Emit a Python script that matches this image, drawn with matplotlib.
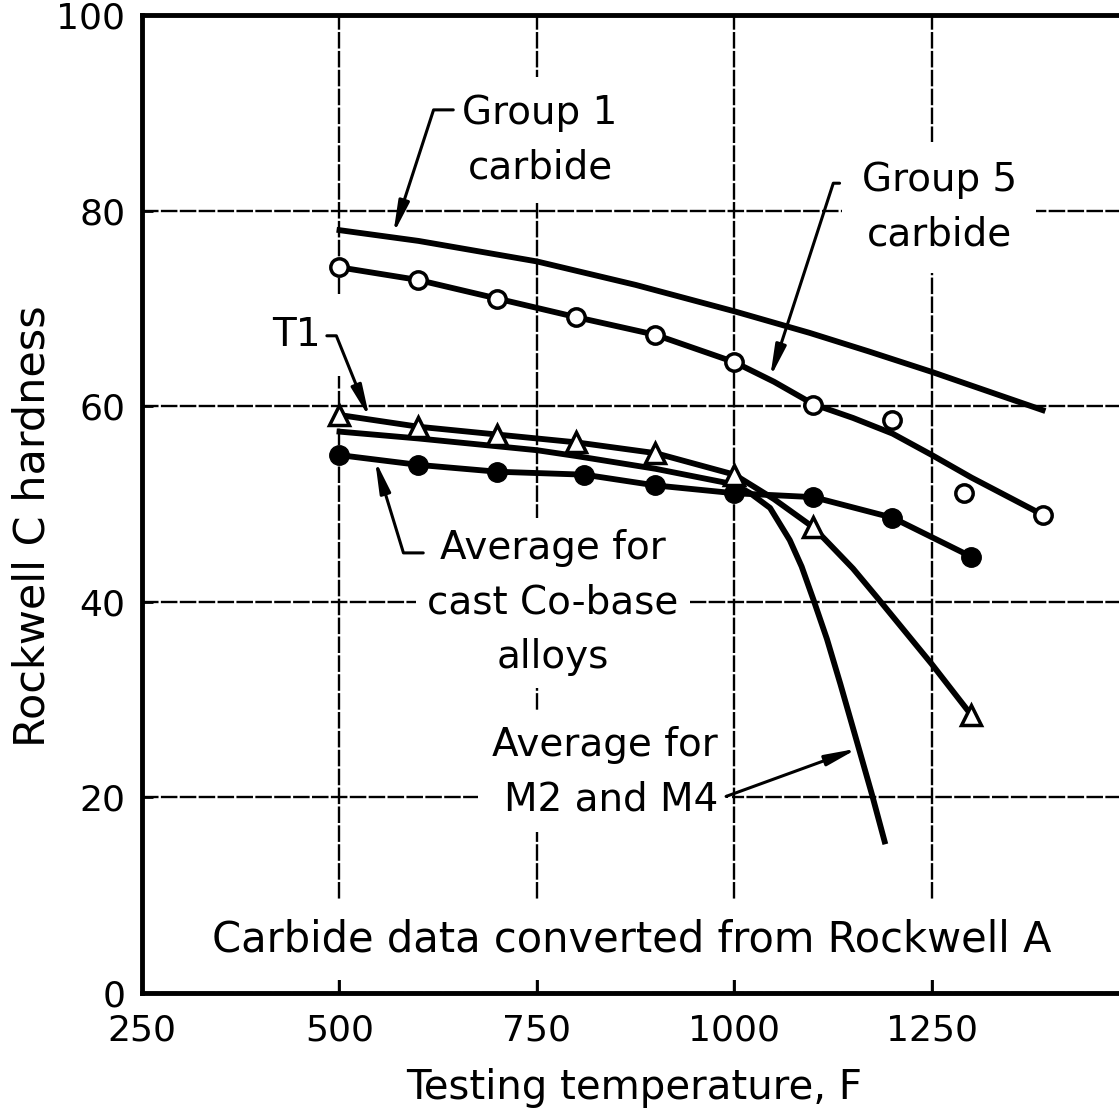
import matplotlib.pyplot as plt

plt.rcParams.update({
    "font.family": "DejaVu Sans",
    "font.size": 28,
})

# Testing temperature (F) vs Rockwell C hardness
g1_temp = [500, 600, 750, 875, 1000, 1095, 1170, 1250, 1390]
g1_hrc = [78.0, 76.9, 74.8, 72.4, 69.7, 67.5, 65.6, 63.5, 59.6]

g5_temp = [500, 600, 700, 800, 900, 1000, 1100, 1200, 1290, 1390]
g5_hrc = [74.2, 72.9, 71.0, 69.1, 67.3, 64.5, 60.1, 58.6, 51.1, 48.9]
g5_curve_temp = [500, 600, 700, 800, 900, 1000, 1050, 1100, 1150, 1200, 1250, 1300, 1390]
g5_curve_hrc = [74.2, 72.9, 71.0, 69.1, 67.3, 64.5, 62.5, 60.2, 58.8, 57.2, 55.0, 52.7, 48.9]

t1_temp = [500, 600, 700, 800, 900, 1000, 1100, 1300]
t1_hrc = [59.1, 57.9, 57.1, 56.3, 55.2, 53.0, 47.6, 28.4]
t1_curve_temp = [500, 600, 700, 800, 900, 1000, 1050, 1100, 1150, 1180, 1250, 1300]
t1_curve_hrc = [59.1, 57.9, 57.1, 56.3, 55.2, 53.0, 50.5, 47.6, 43.4, 40.5, 33.6, 28.4]

co_temp = [500, 600, 700, 810, 900, 1000, 1100, 1200, 1300]
co_hrc = [55.0, 54.0, 53.3, 53.0, 51.9, 51.1, 50.7, 48.6, 44.6]

m2_temp = [500, 600, 700, 750, 800, 900, 1000, 1020, 1045, 1070, 1085,
           1100, 1117, 1134, 1156, 1174, 1190]
m2_hrc = [57.4, 56.7, 55.9, 55.5, 54.9, 53.6, 52.0, 51.1, 49.6, 46.3, 43.6,
          40.2, 36.2, 31.6, 25.4, 20.3, 15.5]

x_ticks = [250, 500, 750, 1000, 1250]
y_ticks = [0, 20, 40, 60, 80, 100]

fig = plt.figure(figsize=(11.19, 11.10), dpi=100)
# axes run past the right edge of the plate, as in the scan
ax = fig.add_axes([142 / 1119, 1 - 993 / 1110, 987.5 / 1119, 978 / 1110])
ax.set_xlim(250, 1500)
ax.set_ylim(0, 100)

ax.set_xticks(x_ticks)
ax.set_yticks(y_ticks)
ax.tick_params(direction="in", length=12, width=2, labelsize=26)
ax.tick_params(axis="x", pad=15)
ax.tick_params(axis="y", pad=12, length=8)
for side in ("left", "bottom", "top"):
    ax.spines[side].set_linewidth(3.5)
ax.spines["right"].set_visible(False)
ax.grid(True, color="black", lw=1.7, ls=(0, (7, 1)), zorder=0.5)
ax.set_axisbelow(True)

lw = 4.2
ax.plot(g1_temp, g1_hrc, color="black", lw=lw, zorder=4)
ax.plot(g5_curve_temp, g5_curve_hrc, color="black", lw=lw, zorder=4)
ax.plot(g5_temp, g5_hrc, ls="none", marker="o", ms=12.5, mew=2.5,
        mfc="white", mec="black", zorder=6)
ax.plot(m2_temp, m2_hrc, color="black", lw=lw, zorder=4)
ax.plot(co_temp, co_hrc, color="black", lw=lw, marker="o", ms=14,
        mfc="black", mec="black", zorder=5)
ax.plot(t1_curve_temp, t1_curve_hrc, color="black", lw=lw, zorder=4)
ax.plot(t1_temp, t1_hrc, ls="none", marker="^", ms=14, mew=2.5,
        mfc="white", mec="black", zorder=6)


def label(x, y, s, pad=10, **kw):
    kw.setdefault("ha", "center")
    kw.setdefault("fontsize", 28)
    ax.text(x, y, s, va="center", multialignment=kw["ha"], linespacing=1.55,
            bbox=dict(facecolor="white", edgecolor="none", pad=pad),
            zorder=2, **kw)


def leader(xy, xytext, angle_b):
    ax.annotate("", xy=xy, xytext=xytext, zorder=3,
                arrowprops=dict(arrowstyle="-|>,head_length=0.95,head_width=0.16",
                                mutation_scale=20, color="black", lw=2.2,
                                shrinkA=0, shrinkB=0,
                                connectionstyle=f"angle,angleA=0,angleB={angle_b},rad=0"))


label(754, 87.2, "Group 1\ncarbide", pad=12)
leader((568, 77.6), (644, 90.3), 72)

label(1259, 80.3, "Group 5\ncarbide", pad=14)
leader((1045, 62.9), (1133, 82.8), 72)

label(445, 67.3, "T1", pad=16)
leader((538, 58.8), (484, 67.2), 112)

label(770, 39.9, "Average for\ncast Co-base\nalloys", pad=8)
leader((545, 54.5), (606, 45.0), -73)

label(979, 22.6, "Average for\nM2 and M4", pad=10, ha="right")
leader((1156, 25.0), (990, 20.1), 200)

label(870, 5.5, "Carbide data converted from Rockwell A", pad=14, fontsize=30)

ax.set_xlabel("Testing temperature, F", fontsize=29)
ax.set_ylabel("Rockwell C hardness", fontsize=31)
ax.xaxis.set_label_coords(0.498, -0.077)
ax.yaxis.set_label_coords(-0.09, 0.477)

fig.savefig("out.png", dpi=100)
